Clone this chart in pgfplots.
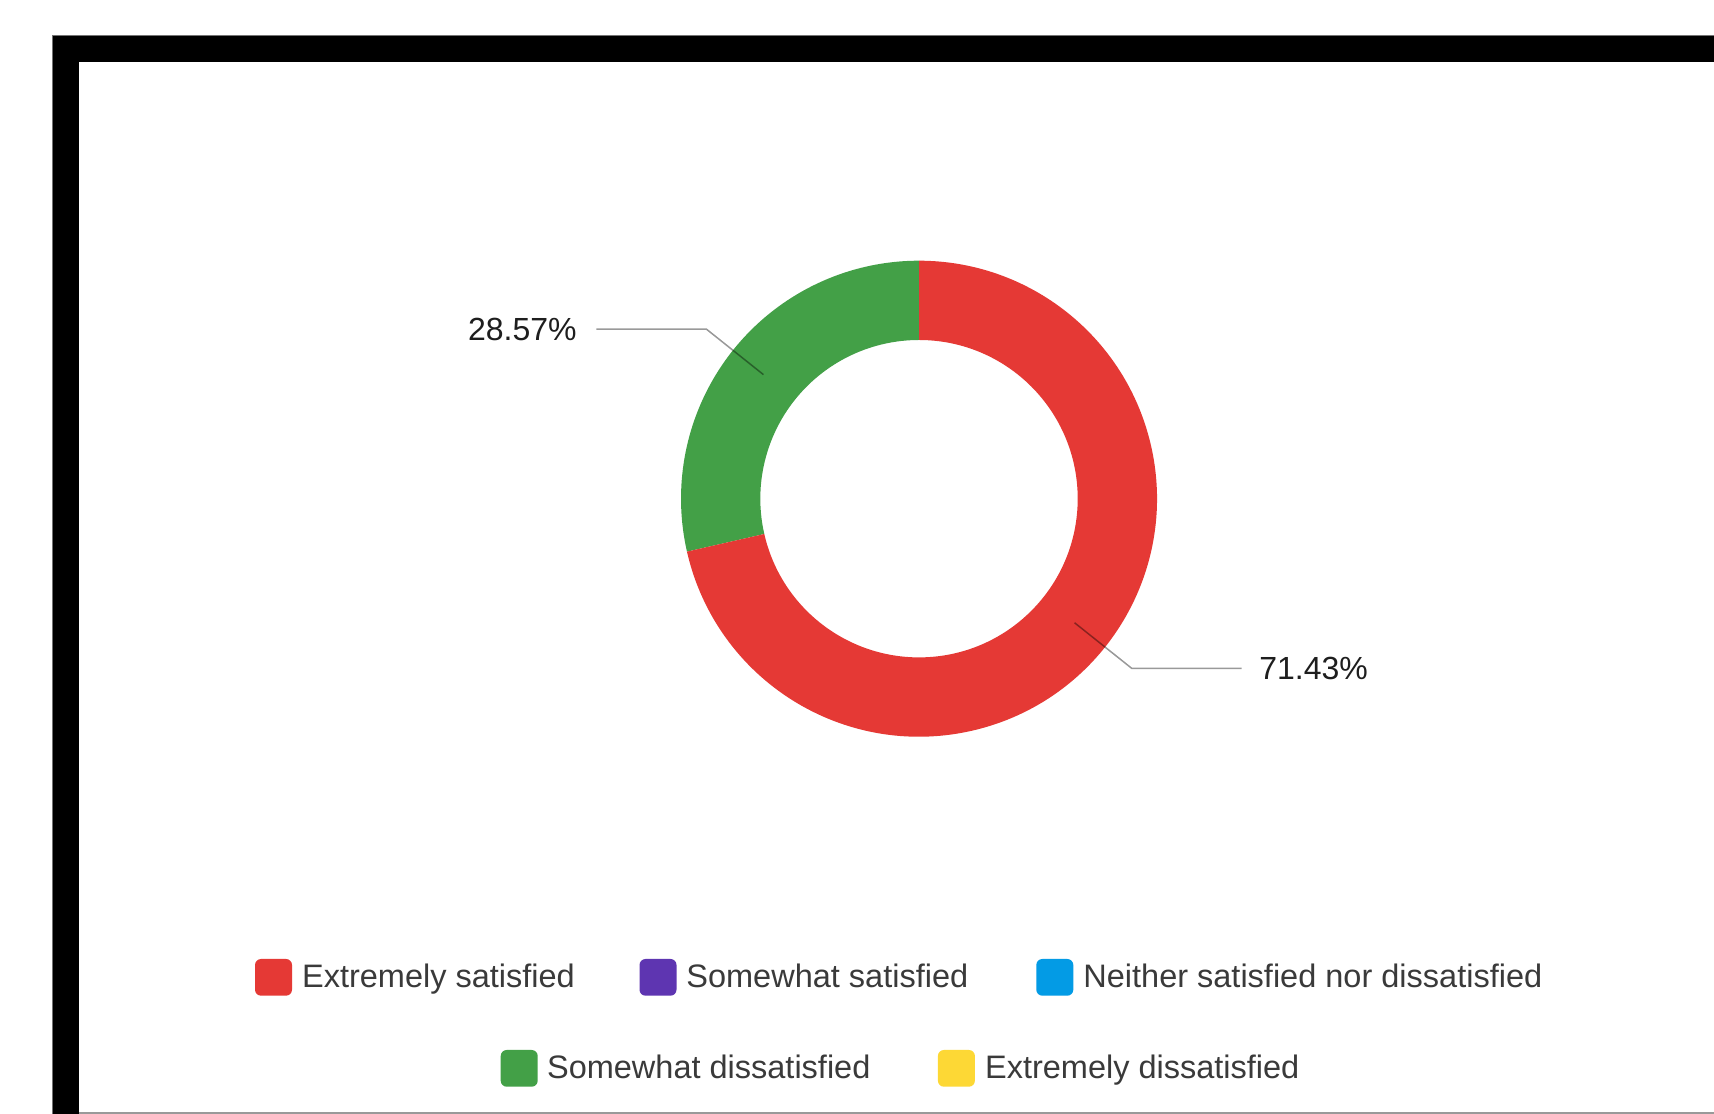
\documentclass[border=0pt]{standalone}
\usepackage{pgfplots}
\pgfplotsset{compat=1.18}
\usepackage{pgfplotstable}
\usepackage{fontspec}
\setmainfont{Liberation Sans}
\definecolor{cRed}{HTML}{E53935}
\definecolor{cGreen}{HTML}{43A047}
\definecolor{cPurple}{HTML}{5E35B1}
\definecolor{cBlue}{HTML}{039BE5}
\definecolor{cYellow}{HTML}{FDD835}
\definecolor{legtxt}{HTML}{3A3A3A}
\definecolor{labtxt}{HTML}{1E1E1E}

% share of answers (percent)
\pgfplotstableread{
idx value
0 71.43
1 28.57
}\piedata
\pgfplotstablegetelem{0}{value}\of\piedata\let\vRed\pgfplotsretval%
\pgfplotstablegetelem{1}{value}\of\piedata\let\vGreen\pgfplotsretval%
\pgfmathsetmacro\aSplit{90+3.6*\vGreen}%
\pgfmathsetmacro\aGreenMid{90+1.8*\vGreen}%
\pgfmathsetmacro\aRedMid{\aSplit+1.8*\vRed}%

\begin{document}%
\begin{tikzpicture}
\useasboundingbox (0,0) rectangle (857pt,557pt);
\fill[white] (0,0) rectangle (857pt,557pt);
\begin{axis}[at={(0,0)}, anchor=south west, x=0.5pt, y=0.5pt,
  xmin=0, xmax=1714, ymin=0, ymax=1114, hide axis, clip=false, scale only axis]
% frame
\fill[black] (axis cs:52.5,0) rectangle (axis cs:79,1078);
\fill[black] (axis cs:52.5,1051.5) rectangle (axis cs:1714,1078);
\draw[black!55, line width=0.5pt] (axis cs:52.5,0) -- (axis cs:52.5,1078) -- (axis cs:1714,1078);
\draw[black!40, line width=1pt] (axis cs:79,1.2) -- (axis cs:1714,1.2);
% donut
\fill[cGreen] ([shift={(90:119pt)}]axis cs:919,615.3) arc[start angle=90,end angle=\aSplit,radius=119pt]
   -- ([shift={(\aSplit:79.35pt)}]axis cs:919,615.3) arc[start angle=\aSplit,end angle=90,radius=79.35pt] -- cycle;
\fill[cRed] ([shift={(\aSplit:119pt)}]axis cs:919,615.3) arc[start angle=\aSplit,end angle=450,radius=119pt]
   -- ([shift={(450:79.35pt)}]axis cs:919,615.3) arc[start angle=450,end angle=\aSplit,radius=79.35pt] -- cycle;
% leader lines and labels
\draw[black, draw opacity=0.4, line width=0.75pt]
   ([shift={(\aGreenMid:99.5pt)}]axis cs:919,615.3) -- ([shift={(\aGreenMid:136pt)}]axis cs:919,615.3) -- ++(-55pt,0)
   node[anchor=east, inner sep=0pt, xshift=-9.5pt, text=labtxt, font=\fontsize{16pt}{19pt}\selectfont] {\vGreen\%};
\draw[black, draw opacity=0.4, line width=0.75pt]
   ([shift={(\aRedMid:99.5pt)}]axis cs:919,615.3) -- ([shift={(\aRedMid:136pt)}]axis cs:919,615.3) -- ++(55pt,0)
   node[anchor=west, inner sep=0pt, xshift=8.5pt, text=labtxt, font=\fontsize{16pt}{19pt}\selectfont] {\vRed\%};
% legend
\fill[cRed, rounded corners=3pt] (axis cs:255,118.3) rectangle (axis cs:292,155);
\node[anchor=base west, inner sep=0pt, text=legtxt, font=\fontsize{16.25pt}{19.5pt}\selectfont] at (axis cs:301.7,126.7) {Extremely satisfied};
\fill[cPurple, rounded corners=3pt] (axis cs:639.5,118.3) rectangle (axis cs:676.5,155);
\node[anchor=base west, inner sep=0pt, text=legtxt, font=\fontsize{16.25pt}{19.5pt}\selectfont] at (axis cs:686,126.7) {Somewhat satisfied};
\fill[cBlue, rounded corners=3pt] (axis cs:1036.3,118.3) rectangle (axis cs:1073.3,155);
\node[anchor=base west, inner sep=0pt, text=legtxt, font=\fontsize{16.25pt}{19.5pt}\selectfont] at (axis cs:1083,126.7) {Neither satisfied nor dissatisfied};
\fill[cGreen, rounded corners=3pt] (axis cs:500.7,27.3) rectangle (axis cs:537.7,64);
\node[anchor=base west, inner sep=0pt, text=legtxt, font=\fontsize{16.25pt}{19.5pt}\selectfont] at (axis cs:546.7,35.7) {Somewhat dissatisfied};
\fill[cYellow, rounded corners=3pt] (axis cs:937.9,27.3) rectangle (axis cs:974.9,64);
\node[anchor=base west, inner sep=0pt, text=legtxt, font=\fontsize{16.25pt}{19.5pt}\selectfont] at (axis cs:984.7,35.7) {Extremely dissatisfied};
\end{axis}
\end{tikzpicture}%
\end{document}
